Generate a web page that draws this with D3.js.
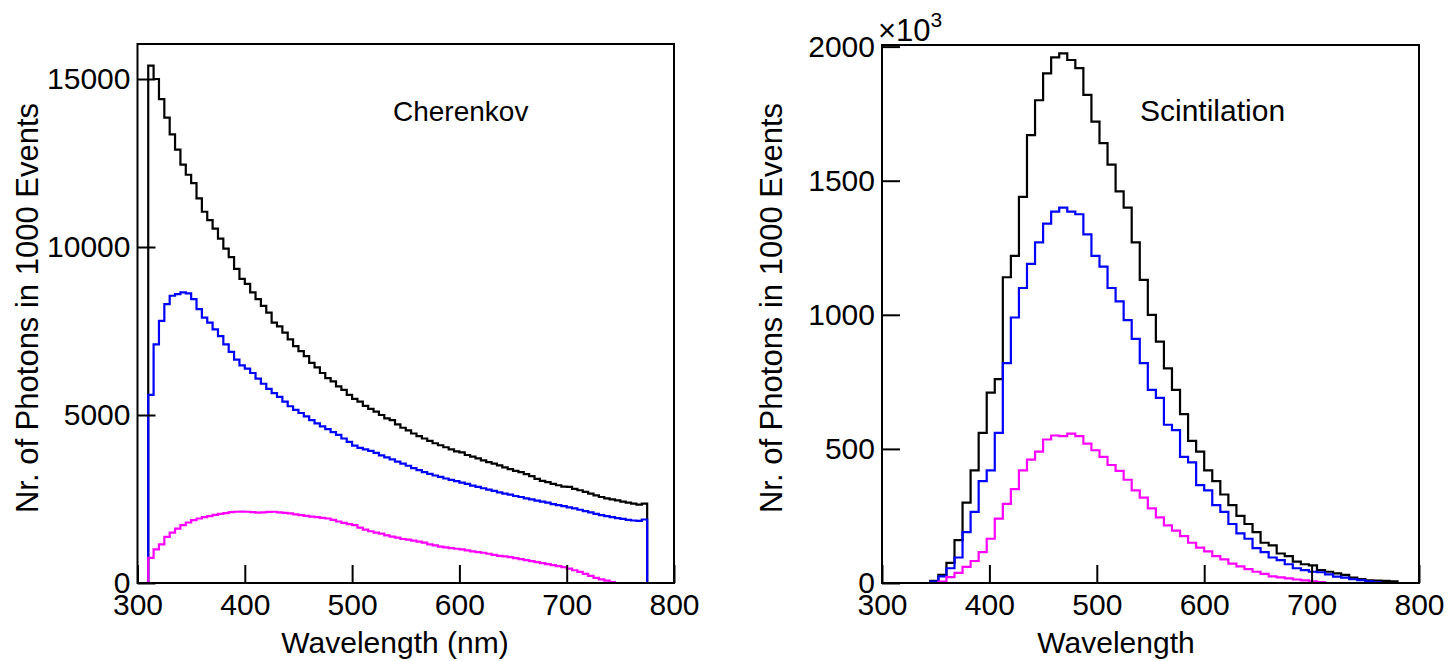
<!DOCTYPE html>
<html>
<head>
<meta charset="utf-8">
<script src="https://cdn.jsdelivr.net/npm/d3@7"></script>
<style>
  body { margin: 0; background: #fff; }
  svg text { font-family: "Liberation Sans", Arial, Helvetica, sans-serif; fill: #000; }
</style>
</head>
<body>
<svg id="chart" width="1453" height="661"></svg>
<script>
// ---------- Cherenkov spectrum: 5 nm bins starting at 310 nm ----------
const cherenkovStart = 310;
const cherenkovBin = 5;
const cherenkovTotal = [15400,15000,14400,13850,13350,12900,12450,12150,11900,11450,
  11050,10800,10550,10250,9950,9700,9350,9050,8900,8650,
  8450,8250,8050,7750,7640,7450,7250,7050,6900,6750,
  6550,6420,6250,6100,6000,5850,5750,5600,5480,5400,
  5270,5180,5100,5000,4900,4850,4720,4620,4540,4450,
  4370,4300,4230,4160,4100,4040,3980,3920,3890,3810,
  3760,3710,3650,3600,3550,3500,3440,3390,3340,3300,
  3240,3180,3100,3040,3000,2950,2910,2870,2860,2800,
  2760,2710,2660,2610,2560,2520,2490,2460,2420,2390,
  2360,2330,2360];
const cherenkovBlue = [5600,7100,7800,8300,8550,8600,8650,8620,8450,8150,
  7900,7750,7550,7350,7100,6880,6650,6480,6380,6250,
  6080,5930,5780,5650,5540,5400,5260,5150,5060,4960,
  4850,4750,4660,4580,4490,4410,4300,4200,4090,4020,
  3980,3930,3870,3800,3740,3680,3610,3550,3490,3420,
  3360,3300,3250,3200,3160,3110,3070,3030,2990,2950,
  2900,2860,2820,2780,2740,2700,2660,2630,2590,2560,
  2520,2490,2450,2420,2390,2350,2320,2290,2250,2220,
  2180,2140,2100,2060,2020,1990,1960,1930,1910,1880,
  1860,1850,1890];
const cherenkovMagenta = [750,1000,1150,1370,1500,1620,1720,1800,1870,1920,
  1960,1990,2030,2055,2080,2110,2120,2125,2120,2110,
  2095,2100,2115,2120,2100,2090,2070,2040,2020,2000,
  1975,1960,1940,1920,1880,1830,1790,1750,1720,1650,
  1590,1540,1500,1470,1420,1380,1350,1310,1290,1260,
  1230,1200,1150,1120,1080,1060,1040,1020,1000,970,
  940,920,900,870,840,810,790,770,740,710,
  680,650,620,590,560,530,500,470,430,380,
  330,270,210,150,110,70,30,0,0,0,
  0,0,0];
const cherenkovTicksY = [0, 5000, 10000, 15000];

// ---------- Scintillation spectrum (x10^3): 7.5 nm bins starting at 345 nm ----------
const scintStart = 345;
const scintBin = 7.5;
const scintTotal = [8,30,75,160,300,420,560,710,760,1140,
  1220,1440,1670,1800,1900,1960,1975,1950,1920,1820,
  1720,1640,1560,1460,1400,1270,1130,1000,900,800,
  720,630,530,490,420,380,330,290,250,220,
  190,150,140,110,100,80,70,66,48,42,
  36,30,20,15,10,9,8,6];
const scintBlue = [5,25,55,95,190,265,380,420,560,820,
  990,1100,1190,1270,1340,1385,1400,1385,1375,1300,
  1220,1180,1100,1050,980,910,820,720,690,590,
  570,470,450,365,345,290,265,220,185,165,
  130,115,95,85,70,55,48,42,40,32,
  24,20,14,11,6,2,0,0];
const scintMagenta = [0,5,22,38,60,82,115,165,240,295,
  350,420,460,490,535,550,548,557,548,520,
  495,470,440,418,385,345,318,278,245,215,
  195,175,150,132,118,100,88,72,62,52,
  42,34,25,21,17,13,10,6,3,0,
  0,0,0,0,0,0,0,0];
const scintTicksY = [0, 500, 1000, 1500, 2000];

const wavelengthTicks = [300, 400, 500, 600, 700, 800];
const seriesColors = ["#000000", "#0000ff", "#ff00ff"];

const svg = d3.select("#chart");

// Step outline of a histogram, running along zero outside the filled bins.
function histPoints(start, width, values, xmin, xmax) {
  const pts = [[xmin, 0], [start, 0]];
  values.forEach((v, i) => {
    pts.push([start + i * width, v]);
    pts.push([start + (i + 1) * width, v]);
  });
  const end = start + values.length * width;
  pts.push([end, 0]);
  pts.push([xmax, 0]);
  return pts;
}

function panel(opts) {
  const { left, right, top, bottom, yMax, yTicks, series, start, width,
          label, labelX, labelSize, xTitle, xTitleX, exponent } = opts;
  const x = d3.scaleLinear().domain([300, 800]).range([left, right]);
  const y = d3.scaleLinear().domain([0, yMax]).range([bottom, top]);
  const g = svg.append("g");

  const line = d3.line().x(d => x(d[0])).y(d => y(d[1]));
  series.forEach((vals, i) => {
    g.append("path")
      .attr("d", line(histPoints(start, width, vals, 300, 800)))
      .attr("fill", "none")
      .attr("stroke", seriesColors[i])
      .attr("stroke-width", 2.2)
      .attr("stroke-linejoin", "miter");
  });

  // frame
  g.append("rect")
    .attr("x", left).attr("y", top)
    .attr("width", right - left).attr("height", bottom - top)
    .attr("fill", "none").attr("stroke", "#000").attr("stroke-width", 2);

  const yAxis = g.append("g")
    .attr("transform", `translate(${left},0)`)
    .call(d3.axisLeft(y).tickValues(yTicks).tickSize(-18).tickPadding(7).tickFormat(d3.format("d")));
  yAxis.select(".domain").remove();
  yAxis.selectAll("line").attr("stroke", "#000").attr("stroke-width", 2);
  yAxis.selectAll("text").attr("font-size", 30).attr("fill", "#000");

  const xAxis = g.append("g")
    .attr("transform", `translate(0,${bottom})`)
    .call(d3.axisBottom(x).tickValues(wavelengthTicks).tickSize(-18).tickPadding(11).tickFormat(d3.format("d")));
  xAxis.select(".domain").remove();
  xAxis.selectAll("line").attr("stroke", "#000").attr("stroke-width", 2);
  xAxis.selectAll("text").attr("font-size", 30).attr("fill", "#000");

  g.append("text")
    .attr("x", xTitleX).attr("y", 653)
    .attr("text-anchor", "middle").attr("font-size", 30)
    .text(xTitle);

  g.append("text")
    .attr("transform", `translate(${left - 100},308) rotate(-90)`)
    .attr("text-anchor", "middle").attr("font-size", 31)
    .text("Nr. of Photons in 1000 Events");

  g.append("text")
    .attr("x", labelX).attr("y", 121)
    .attr("font-size", labelSize)
    .text(label);

  if (exponent) {
    const t = g.append("text").attr("x", left - 4).attr("y", 41).attr("font-size", 31);
    t.append("tspan").text("\u00d710");
    t.append("tspan").attr("dy", -14).attr("font-size", 21).text("3");
  }
}

panel({
  left: 137.5, right: 674, top: 44, bottom: 583, yMax: 16042,
  yTicks: cherenkovTicksY,
  series: [cherenkovTotal, cherenkovBlue, cherenkovMagenta],
  start: cherenkovStart, width: cherenkovBin,
  label: "Cherenkov", labelX: 393, labelSize: 28,
  xTitle: "Wavelength (nm)", xTitleX: 395
});

panel({
  left: 882, right: 1419, top: 45, bottom: 583, yMax: 2006,
  yTicks: scintTicksY,
  series: [scintTotal, scintBlue, scintMagenta],
  start: scintStart, width: scintBin,
  label: "Scintilation", labelX: 1140, labelSize: 30,
  xTitle: "Wavelength", xTitleX: 1116,
  exponent: true
});
</script>
</body>
</html>
